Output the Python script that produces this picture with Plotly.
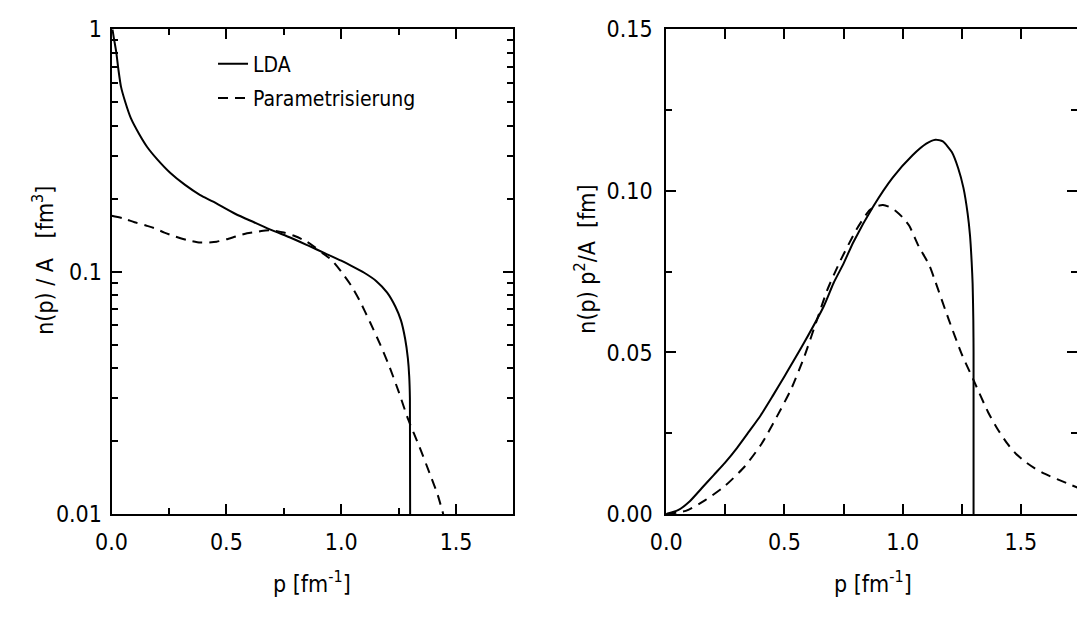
import plotly.graph_objects as go

W, H = 1077, 621

# ---------------- data ----------------
# Left panel: n(p)/A  (log scale)
p_lda_left = [0.004, 0.010, 0.020, 0.030, 0.041, 0.060, 0.084, 0.120, 0.155, 0.200, 0.255,
              0.320, 0.386, 0.440, 0.540, 0.620, 0.700, 0.780, 0.857, 0.930, 1.000, 1.042,
              1.100, 1.153, 1.200, 1.236, 1.260, 1.278, 1.290, 1.296, 1.299, 1.300]
n_lda_left = [1.0, 0.92, 0.81, 0.68, 0.58, 0.50, 0.43, 0.37, 0.327, 0.290, 0.256,
              0.228, 0.207, 0.195, 0.173, 0.160, 0.148, 0.138, 0.128, 0.119, 0.111, 0.106,
              0.099, 0.0914, 0.082, 0.0717, 0.063, 0.053, 0.044, 0.037, 0.030, 0.010]

p_par_left = [0.0, 0.05, 0.10, 0.15, 0.188, 0.23, 0.274, 0.33, 0.386, 0.42, 0.458, 0.50,
              0.544, 0.59, 0.63, 0.67, 0.70, 0.75, 0.80, 0.85, 0.886, 0.92, 0.957, 1.0,
              1.042, 1.08, 1.125, 1.17, 1.208, 1.25, 1.292, 1.34, 1.389, 1.42, 1.444]
n_par_left = [0.170, 0.166, 0.160, 0.155, 0.151, 0.145, 0.140, 0.135, 0.132, 0.132, 0.133,
              0.136, 0.140, 0.144, 0.146, 0.148, 0.148, 0.145, 0.140, 0.133, 0.126, 0.119,
              0.112, 0.100, 0.088, 0.076, 0.062, 0.050, 0.041, 0.032, 0.0245, 0.019,
              0.0144, 0.0120, 0.0100]

# Right panel: n(p) p^2 / A  (linear)
p_lda_right = [0.0, 0.05, 0.10, 0.15, 0.20, 0.25, 0.30, 0.35, 0.40, 0.45, 0.50, 0.583,
               0.667, 0.708, 0.75, 0.792, 0.875, 0.958, 1.042, 1.10, 1.139, 1.17, 1.208,
               1.235, 1.257, 1.275, 1.285, 1.292, 1.296, 1.299, 1.300, 1.300]
y_lda_right = [0.0, 0.0012, 0.0040, 0.0080, 0.0120, 0.0160, 0.0205, 0.0255, 0.0306,
               0.0365, 0.0426, 0.0530, 0.0644, 0.0715, 0.0775, 0.0842, 0.0951, 0.1041,
               0.1110, 0.1146, 0.1158, 0.1153, 0.1120, 0.1070, 0.1010, 0.0930, 0.0862,
               0.0780, 0.0713, 0.0600, 0.0500, 0.0]

p_par_right = [0.0, 0.083, 0.167, 0.25, 0.333, 0.403, 0.472, 0.528, 0.583, 0.639, 0.681,
               0.736, 0.806, 0.861, 0.89, 0.917, 0.945, 0.972, 1.0, 1.028, 1.069, 1.111,
               1.139, 1.194, 1.25, 1.299, 1.361, 1.40, 1.444, 1.48, 1.52, 1.556, 1.60,
               1.653, 1.70, 1.74]
y_par_right = [0.0, 0.0010, 0.0044, 0.0088, 0.0148, 0.0217, 0.0307, 0.0386, 0.0485, 0.0604,
               0.0693, 0.0783, 0.0882, 0.0941, 0.0953, 0.0956, 0.0950, 0.0937, 0.0918,
               0.0892, 0.0827, 0.0773, 0.0718, 0.0604, 0.0495, 0.0416, 0.0316, 0.0265,
               0.0217, 0.0186, 0.0161, 0.0143, 0.0125, 0.0108, 0.0094, 0.0082]

log_major = [0.01, 0.1, 1]
log_major_text = ["0.01", "0.1", "1"]
log_minor = [k * 10 ** e for e in (-2, -1) for k in range(2, 10)]

FONT = "DejaVu Sans Condensed, DejaVu Sans, sans-serif"
solid = dict(color="black", width=2, shape="spline", smoothing=0.6)
dashed = dict(color="black", width=2, dash="10px,7px", shape="spline", smoothing=0.6)

fig = go.Figure()
fig.add_trace(go.Scatter(x=p_lda_left, y=n_lda_left, mode="lines", line=solid, name="LDA",
                         xaxis="x", yaxis="y", legendgroup="a"))
fig.add_trace(go.Scatter(x=p_par_left, y=n_par_left, mode="lines", line=dashed,
                         name="Parametrisierung", xaxis="x", yaxis="y", legendgroup="b"))
fig.add_trace(go.Scatter(x=p_lda_right, y=y_lda_right, mode="lines", line=solid, name="LDA",
                         xaxis="x2", yaxis="y2", showlegend=False))
fig.add_trace(go.Scatter(x=p_par_right, y=y_par_right, mode="lines", line=dashed,
                         name="Parametrisierung", xaxis="x2", yaxis="y2", showlegend=False))
fig.add_trace(go.Scatter(x=[None], y=[None], mode="lines", xaxis="x2", yaxis="y3",
                         showlegend=False, hoverinfo="skip"))

ydom = [(H - 523) / H, (H - 17) / H]
tickfont = dict(family=FONT, size=23, color="black")
common = dict(showline=True, linecolor="black", linewidth=2, ticks="inside", ticklen=10,
              tickwidth=2, tickcolor="black", showgrid=False, zeroline=False,
              tickfont=tickfont)
minor_lin = dict(ticks="inside", ticklen=6, tickwidth=2, tickcolor="black", showgrid=False)

fig.update_layout(
    width=W, height=H,
    margin=dict(l=0, r=0, t=0, b=0),
    paper_bgcolor="white", plot_bgcolor="white",
    showlegend=True,
    legend=dict(x=200 / W, y=1 - 32 / H, xanchor="left", yanchor="top",
                bgcolor="rgba(0,0,0,0)", font=dict(family=FONT, size=21, color="black"),
                tracegroupgap=4),
    xaxis=dict(domain=[97 / W, 505 / W], range=[0, 1.75], tick0=0, dtick=0.5,
               tickformat=".1f", mirror="allticks", anchor="y", ticklabelstandoff=6,
               minor=dict(dtick=0.25, **minor_lin), **common),
    yaxis=dict(type="log", domain=ydom, range=[-2, 0], tickmode="array",
               tickvals=log_major, ticktext=log_major_text, mirror="allticks",
               anchor="x", ticklabelstandoff=3,
               minor=dict(tickmode="array", tickvals=log_minor, **minor_lin), **common),
    xaxis2=dict(domain=[660 / W, 1.0], range=[0, 1.7375], tick0=0, dtick=0.5,
                tickformat=".1f", mirror="allticks", anchor="y2", ticklabelstandoff=6,
                minor=dict(dtick=0.25, **minor_lin), **common),
    yaxis2=dict(domain=ydom, range=[0, 0.15], tick0=0, dtick=0.05, tickformat=".2f",
                mirror=False, anchor="x2", ticklabelstandoff=7,
                minor=dict(dtick=0.025, **minor_lin), **common),
    yaxis3=dict(overlaying="y2", side="right", anchor="x2", range=[0, 0.15], tick0=0,
                dtick=0.05, showticklabels=False, showline=False, ticks="inside",
                ticklen=10, tickwidth=2, tickcolor="black", showgrid=False, zeroline=False,
                minor=dict(dtick=0.025, **minor_lin)),
)

tfont = dict(family=FONT, size=23, color="black")
NB = "\u00a0"
fig.add_annotation(text=f"n(p) / A{NB}{NB}{NB}[fm<sup>3</sup>]", xref="paper", yref="paper",
                   x=28 / W, y=1 - 258 / H, textangle=-90, showarrow=False, font=tfont,
                   xanchor="center", yanchor="middle")
fig.add_annotation(text=f"n(p) p<sup>2</sup>/A{NB}{NB}[fm]", xref="paper", yref="paper",
                   x=578 / W, y=1 - 257 / H, textangle=-90, showarrow=False, font=tfont,
                   xanchor="center", yanchor="middle")
fig.add_annotation(text="p [fm<sup>-1</sup>]", xref="paper", yref="paper",
                   x=300 / W, y=1 - 594 / H, showarrow=False, font=tfont,
                   xanchor="center", yanchor="middle")
fig.add_annotation(text="p [fm<sup>-1</sup>]", xref="paper", yref="paper",
                   x=870 / W, y=1 - 594 / H, showarrow=False, font=tfont,
                   xanchor="center", yanchor="middle")

fig.write_html("out.html")
